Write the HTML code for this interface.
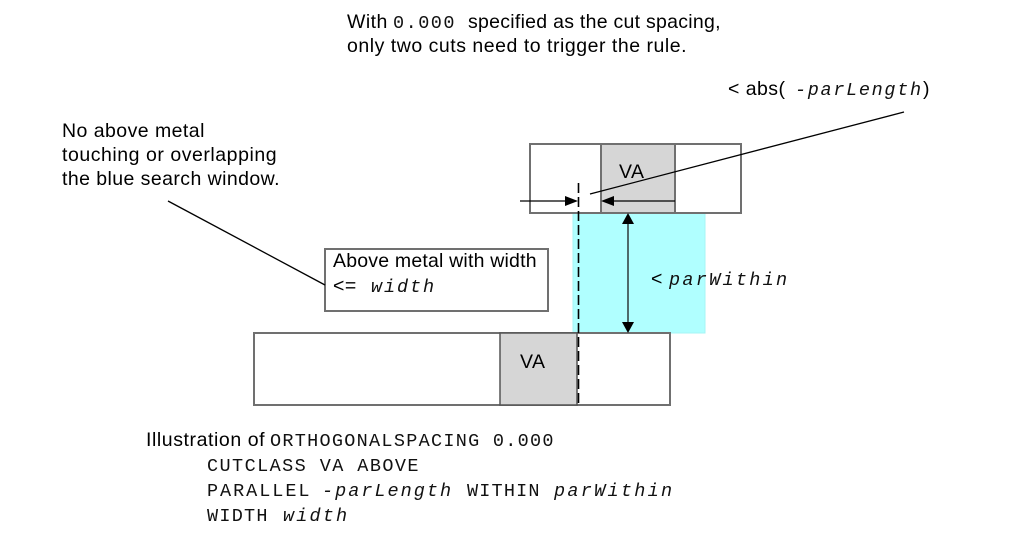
<!DOCTYPE html>
<html>
<head>
<meta charset="utf-8">
<style>
html,body{margin:0;padding:0;background:#fff;}
svg{display:block;}
.s{font-family:"Liberation Sans",Arial,sans-serif;font-size:19.5px;fill:#000;letter-spacing:0.45px;}
.m{font-family:"Liberation Mono","Courier New",monospace;font-size:18.5px;fill:#111;letter-spacing:1.5px;}
.mi{font-family:"Liberation Mono","Courier New",monospace;font-size:18.5px;fill:#111;font-style:italic;letter-spacing:1.9px;}
</style>
</head>
<body>
<svg width="1013" height="546" viewBox="0 0 1013 546" xmlns="http://www.w3.org/2000/svg">
  <rect x="0" y="0" width="1013" height="546" fill="#fff"/>

  <!-- top text -->
  <text class="s" x="347" y="28">With</text>
  <text class="m" x="393" y="28">0.000</text>
  <text class="s" x="468" y="28" textLength="253" lengthAdjust="spacing">specified as the cut spacing,</text>
  <text class="s" x="347" y="52" textLength="340" lengthAdjust="spacing">only two cuts need to trigger the rule.</text>

  <!-- abs label -->
  <text class="s" x="728" y="95">&lt; abs(</text>
  <text class="mi" x="795" y="95" textLength="128" lengthAdjust="spacing">-parLength</text>
  <text class="s" x="923" y="95">)</text>

  <!-- left note -->
  <text class="s" x="62" y="137">No above metal</text>
  <text class="s" x="62" y="161" textLength="215" lengthAdjust="spacing">touching or overlapping</text>
  <text class="s" x="62" y="185" textLength="218" lengthAdjust="spacing">the blue search window.</text>

  <!-- cyan search window -->
  <rect x="573" y="213" width="132" height="120" fill="#b0ffff" stroke="#a6f4f4" stroke-width="1"/>

  <!-- top metal -->
  <rect x="530" y="144" width="211" height="69" fill="#fff" stroke="#707070" stroke-width="2"/>
  <rect x="601" y="144" width="74" height="69" fill="#d6d6d6" stroke="#707070" stroke-width="2"/>
  <text class="s" x="619" y="178" style="letter-spacing:0.5px">VA</text>

  <!-- bottom metal -->
  <rect x="254" y="333" width="416" height="72" fill="#fff" stroke="#707070" stroke-width="2"/>
  <rect x="500" y="333" width="77" height="72" fill="#d6d6d6" stroke="#555" stroke-width="1.5"/>
  <text class="s" x="520" y="368" style="letter-spacing:0.5px">VA</text>

  <!-- text box -->
  <rect x="325" y="249" width="223" height="62" fill="#fff" stroke="#707070" stroke-width="2"/>
  <text class="s" x="333" y="267" textLength="204" lengthAdjust="spacing">Above metal with width</text>
  <text class="s" x="333" y="292">&lt;=</text>
  <text class="mi" x="371" y="292" textLength="65" lengthAdjust="spacing">width</text>

  <!-- dashed line -->
  <line x1="578.5" y1="183" x2="578.5" y2="405" stroke="#000" stroke-width="1.6" stroke-dasharray="10 4"/>

  <!-- horizontal arrows -->
  <line x1="520" y1="201" x2="567" y2="201" stroke="#000" stroke-width="1.3"/>
  <polygon points="578,201 565,196 565,206" fill="#000"/>
  <line x1="675" y1="201" x2="612" y2="201" stroke="#000" stroke-width="1.3"/>
  <polygon points="601,201 614,196 614,206" fill="#000"/>

  <!-- vertical arrow -->
  <line x1="628" y1="222" x2="628" y2="324" stroke="#4f6a6a" stroke-width="2"/>
  <polygon points="628,213 622,224 634,224" fill="#000"/>
  <polygon points="628,333 622,322 634,322" fill="#000"/>
  <text class="s" x="651" y="285">&lt;</text>
  <text class="mi" x="669" y="285" textLength="120" lengthAdjust="spacing">parWithin</text>

  <!-- leader lines -->
  <line x1="590" y1="194" x2="904" y2="112" stroke="#000" stroke-width="1.3"/>
  <line x1="168" y1="201" x2="325" y2="285" stroke="#000" stroke-width="1.3"/>

  <!-- bottom caption -->
  <text class="s" x="146" y="446" textLength="119" lengthAdjust="spacing">Illustration of</text>
  <text class="m" x="270" y="446" textLength="285" lengthAdjust="spacing">ORTHOGONALSPACING 0.000</text>
  <text class="m" x="207" y="471" textLength="213" lengthAdjust="spacing">CUTCLASS VA ABOVE</text>
  <text class="m" x="207" y="496" textLength="104" lengthAdjust="spacing">PARALLEL</text>
  <text class="mi" x="322" y="496" textLength="131" lengthAdjust="spacing">-parLength</text>
  <text class="m" x="467" y="496" textLength="74" lengthAdjust="spacing">WITHIN</text>
  <text class="mi" x="554" y="496" textLength="120" lengthAdjust="spacing">parWithin</text>
  <text class="m" x="207" y="521" textLength="62" lengthAdjust="spacing">WIDTH</text>
  <text class="mi" x="283" y="521" textLength="66" lengthAdjust="spacing">width</text>
</svg>
</body>
</html>
